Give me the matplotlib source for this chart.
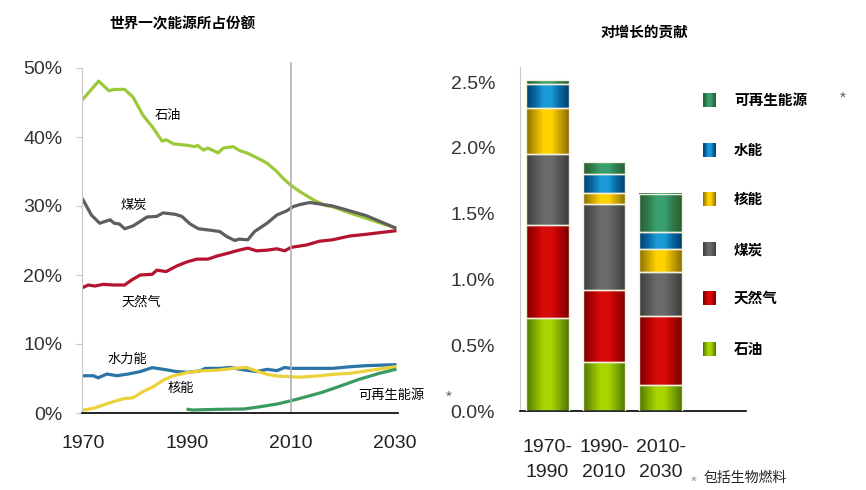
import matplotlib
matplotlib.use("Agg")
import matplotlib.pyplot as plt
import numpy as np
from matplotlib.colors import LinearSegmentedColormap

plt.rcParams['font.family'] = ['Liberation Sans', 'Noto Sans CJK SC', 'DejaVu Sans']

# shares of world primary energy (%)
oil_years = [1970, 1973, 1975, 1976, 1978, 1979.6, 1981.5, 1983.5, 1985.2, 1986, 1987.4, 1990,
             1991.5, 1992, 1993.2, 1994, 1996, 1997, 1998.9, 2000.2, 2001.5, 2003.7, 2005.4,
             2007.3, 2008.5, 2010, 2011.7, 2014.3, 2016.5, 2018, 2021.3, 2024.5, 2030]
oil = [45.5, 48.1, 46.7, 46.9, 46.9, 45.8, 43.2, 41.3, 39.4, 39.6, 39.0, 38.8,
       38.6, 38.8, 38.1, 38.4, 37.7, 38.4, 38.6, 38.0, 37.7, 36.9, 36.2,
       35.0, 34.0, 33.0, 32.1, 30.9, 30.1, 29.9, 29.0, 28.2, 26.85]

coal_years = [1970, 1971.6, 1973.2, 1975.2, 1976, 1977, 1978, 1979.6, 1982.3, 1984.2, 1985.4,
              1987.7, 1989, 1990.6, 1992.2, 1994.4, 1996.3, 1997.6, 1999.2, 2000, 2001.7, 2003,
              2005.4, 2007.3, 2009.2, 2010.4, 2011.7, 2013.6, 2015.5, 2018, 2021.3, 2024.5, 2030]
coal = [30.9, 28.7, 27.5, 28.0, 27.5, 27.4, 26.7, 27.1, 28.4, 28.5, 29.0,
        28.8, 28.5, 27.4, 26.7, 26.5, 26.3, 25.6, 25.0, 25.2, 25.1, 26.3,
        27.5, 28.7, 29.3, 29.9, 30.2, 30.5, 30.3, 30.0, 29.3, 28.6, 26.85]

gas_years = [1970, 1971, 1972.3, 1973.9, 1975.8, 1978, 1979.4, 1981, 1983.3, 1984.2, 1986, 1988,
             1990, 1991.9, 1994, 1995.8, 1997.6, 1999.5, 2001.7, 2003.4, 2005.4, 2007.3, 2008.8,
             2010, 2013, 2015.5, 2018, 2021.3, 2024.5, 2030]
gas = [18.2, 18.55, 18.4, 18.65, 18.55, 18.55, 19.3, 20.0, 20.1, 20.7, 20.5, 21.3,
       21.9, 22.3, 22.3, 22.75, 23.1, 23.5, 23.9, 23.5, 23.6, 23.8, 23.5,
       24.0, 24.35, 24.9, 25.1, 25.65, 25.9, 26.4]

hydro_years = [1970, 1972, 1972.9, 1974.6, 1976.5, 1978.7, 1981, 1983.3, 1985.5, 1988, 1990,
               1992.5, 1993.5, 1996.3, 1998.3, 2000.2, 2003.4, 2005.4, 2007.3, 2008.8, 2010,
               2015, 2018, 2021.3, 2024.5, 2030]
hydro = [5.4, 5.4, 5.1, 5.65, 5.4, 5.65, 6.0, 6.57, 6.33, 6.0, 5.9,
         6.1, 6.47, 6.47, 6.6, 6.33, 6.0, 6.33, 6.14, 6.6, 6.47,
         6.47, 6.47, 6.7, 6.86, 7.0]

nuclear_years = [1970, 1972, 1973.9, 1975.8, 1978, 1979.6, 1981.5, 1983.5, 1985.5, 1987.4, 1990,
                 1992.5, 1995.8, 1999, 2001.5, 2003.7, 2005.4, 2007.3, 2010, 2011.7, 2015, 2018,
                 2021.3, 2024.5, 2030]
nuclear = [0.43, 0.68, 1.16, 1.64, 2.1, 2.2, 3.1, 3.8, 4.8, 5.4, 5.85,
           6.1, 6.2, 6.47, 6.6, 6.0, 5.6, 5.36, 5.26, 5.2, 5.36, 5.6,
           5.75, 6.1, 6.7]

renew_years = [1990.2, 1991, 1996, 2001, 2004, 2007.3, 2010, 2013, 2016, 2019, 2023, 2027, 2030]
renew = [0.53, 0.43, 0.53, 0.58, 0.9, 1.3, 1.77, 2.37, 3.0, 3.77, 4.85, 5.75, 6.3]

# contribution to growth (%), bottom to top: oil, gas, coal, nuclear, hydro, renewables
periods = ['1970-\n1990', '1990-\n2010', '2010-\n2030']
c_oil = [0.71, 0.37, 0.20]
c_gas = [0.70, 0.55, 0.52]
c_coal = [0.545, 0.65, 0.34]
c_nuclear = [0.35, 0.09, 0.17]
c_hydro = [0.18, 0.14, 0.13]
c_renew = [0.03, 0.09, 0.29]

fig = plt.figure(figsize=(8.66, 4.9), dpi=100)

# ---- left: line chart
ax = fig.add_axes([82/866, 1-413/490, 316/866, 345/490])
ax.plot(oil_years, oil, color='#9cc93a', lw=2.3)
ax.plot(coal_years, coal, color='#5e5e5e', lw=2.3)
ax.plot(gas_years, gas, color='#b5132f', lw=2.3)
ax.plot(hydro_years, hydro, color='#2a74a6', lw=2.3)
ax.plot(nuclear_years, nuclear, color='#ecd23a', lw=2.3)
ax.plot(renew_years, renew, color='#3a9a62', lw=2.3)
ax.axvline(2010, ymin=0, ymax=1.015, color='#b0b0b0', lw=1.2, clip_on=False)
ax.set_xlim(1969.8, 2030.6)
ax.set_ylim(0, 50)
ax.set_xticks([1970, 1990, 2010, 2030])
ax.set_yticks([0, 10, 20, 30, 40, 50])
ax.set_yticklabels(['0%', '10%', '20%', '30%', '40%', '50%'])
ax.tick_params(axis='y', length=4, color='#c8c8c8', pad=10, labelsize=14, labelcolor='#333333')
ax.tick_params(axis='x', length=0, pad=16, labelsize=14, labelcolor='#222222')
for s in ['top', 'right']:
    ax.spines[s].set_visible(False)
ax.spines['left'].set_color('#c8c8c8')
ax.spines['bottom'].set_color('black')
ax.spines['bottom'].set_linewidth(1.2)

lbl = dict(fontsize=9.5, color='black', family=['Noto Sans CJK SC'], ha='center', va='center')
ax.text(1986.4, 43.1, '石油', **lbl)
ax.text(1979.7, 30.1, '煤炭', **lbl)
ax.text(1981.3, 16.1, '天然气', **lbl)
ax.text(1978.5, 7.8, '水力能', **lbl)
ax.text(1988.8, 3.5, '核能', **lbl)
ax.text(2029.4, 2.6, '可再生能源', **lbl)
ax.text(2040.4, 2.4, '*', fontsize=11, color='#555555', ha='center', va='center', clip_on=False)

fig.text(182/866, 1-23/490, '世界一次能源所占份额', fontsize=10.5, fontweight='bold',
         family=['Noto Sans CJK SC'], ha='center', va='center')

# ---- right: stacked bars
bx = fig.add_axes([520/866, 1-411/490, 226/866, 344/490])

def grad_cmap(dark, mid, light):
    return LinearSegmentedColormap.from_list('g', [dark, mid, light, light, mid, dark])

styles = [
    (c_oil, grad_cmap('#4e7400', '#7ea800', '#a8d400')),
    (c_gas, grad_cmap('#7a0000', '#b00000', '#d80a0a')),
    (c_coal, grad_cmap('#3e3e3e', '#555555', '#6a6a6a')),
    (c_nuclear, grad_cmap('#8a7000', '#c8a000', '#ffd200')),
    (c_hydro, grad_cmap('#00406e', '#0a64a0', '#1a9ad6')),
    (c_renew, grad_cmap('#2a5e36', '#2f7a48', '#3aa070')),
]
w = 0.76
x = np.arange(len(periods))
bottom = np.zeros(len(periods))
grad = np.linspace(0, 1, 64).reshape(1, -1)
for vals, cm in styles:
    vals = np.array(vals)
    for i in range(len(periods)):
        bx.imshow(grad, cmap=cm, aspect='auto', interpolation='bilinear',
                  extent=[x[i]-w/2, x[i]+w/2, bottom[i], bottom[i]+vals[i]], zorder=2)
    bx.bar(x, vals, w, bottom=bottom, facecolor='none', edgecolor='#f4f0dc', lw=1.0, zorder=3)
    bottom += vals
bx.set_xlim(-0.487, 3.513)
bx.set_ylim(0, 2.614)

bx.set_xticks(x)
bx.set_xticklabels(periods, linespacing=1.6)
bx.set_yticks([0, 0.5, 1.0, 1.5, 2.0, 2.5])
bx.set_yticklabels(['0.0%', '0.5%', '1.0%', '1.5%', '2.0%', '2.5%'])
bx.tick_params(axis='y', length=0, pad=18, labelsize=14, labelcolor='#333333')
bx.tick_params(axis='x', length=0, pad=20, labelsize=14, labelcolor='#222222')
for s in ['top', 'right']:
    bx.spines[s].set_visible(False)
bx.spines['left'].set_color('#c8c8c8')
bx.spines['bottom'].set_color('black')
bx.spines['bottom'].set_linewidth(1.2)

fig.text(644/866, 1-32/490, '对增长的贡献', fontsize=10.5, fontweight='bold',
         family=['Noto Sans CJK SC'], ha='center', va='center')

# legend
leg_names = ['可再生能源', '水能', '核能', '煤炭', '天然气', '石油']
leg_y = [100, 150, 199, 249, 298, 349]
leg_cmaps = [styles[5][1], styles[4][1], styles[3][1], styles[2][1], styles[1][1], styles[0][1]]
for name, yy, cm in zip(leg_names, leg_y, leg_cmaps):
    lax = fig.add_axes([703/866, 1-(yy+7)/490, 13/866, 14/490])
    lax.imshow(grad, cmap=cm, aspect='auto', interpolation='bilinear')
    lax.axis('off')
    fig.text(734/866, 1-yy/490, name, fontsize=10.5, fontweight='bold',
             family=['Noto Sans CJK SC'], ha='left', va='center')
fig.text(843/866, 1-98/490, '*', fontsize=11, color='#555555', ha='center', va='center')

fig.text(694/866, 1-482/490, '*', fontsize=11, color='#999999', ha='center', va='center')
fig.text(703/866, 1-478/490, '包括生物燃料', fontsize=10, family=['Noto Sans CJK SC'],
         ha='left', va='center', color='#222222')

fig.savefig('out.png', dpi=100)
